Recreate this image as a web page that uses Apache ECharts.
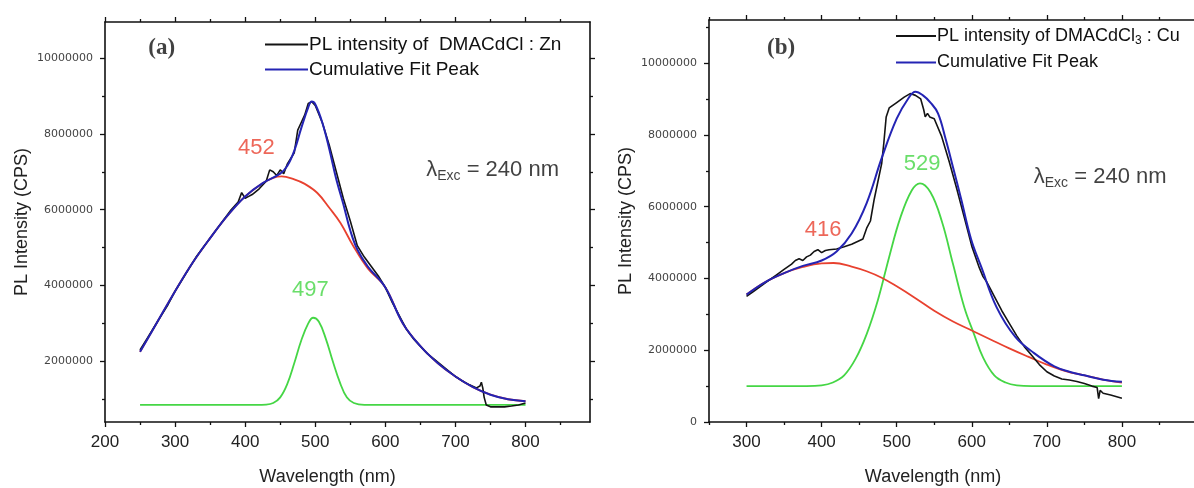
<!DOCTYPE html>
<html><head><meta charset="utf-8">
<script src="https://cdn.jsdelivr.net/npm/echarts@6/dist/echarts.min.js"></script>
<style>html,body{margin:0;padding:0;background:#fff}#c{width:1194px;height:488px}</style>
</head><body><div id="c"></div>
<script>
// ===== Panel (a): DMACdCl : Zn  (intensities in millions of CPS) =====
const aExpNm  = [250,260,270,280,290,300,310,320,330,340,350,360,370,380,390,395,400,405,410,420,430,435,440,445,450,455,460,465,470,475,480,485,490,495,500,510,520,530,540,550,560,570,580,590,600,610,620,630,640,650,660,670,680,690,700,710,720,730,735,737,739,741,744,750,760,770,780,790,800];
const aExpVal = [2.3,2.6,2.9,3.2,3.5,3.85,4.15,4.45,4.75,5.0,5.25,5.5,5.75,6.0,6.2,6.45,6.3,6.35,6.4,6.55,6.75,7.05,7.0,6.9,7.05,6.95,7.2,7.35,7.5,8.1,8.3,8.5,8.8,8.85,8.75,8.3,7.7,7.0,6.3,5.7,5.05,4.75,4.5,4.25,3.95,3.55,3.2,2.85,2.6,2.4,2.2,2.05,1.9,1.75,1.6,1.48,1.38,1.3,1.35,1.45,1.3,1.05,0.85,0.8,0.8,0.8,0.82,0.85,0.9];
const aFitNm  = [250,275,300,325,350,375,400,425,450,460,470,480,490,495,500,510,520,530,540,550,560,575,600,625,650,675,700,725,750,775,800];
const aFitVal = [2.25,3.05,3.85,4.6,5.25,5.85,6.35,6.7,6.95,7.15,7.55,8.15,8.7,8.85,8.78,8.3,7.6,6.8,6.15,5.45,4.95,4.5,3.95,3.0,2.4,1.95,1.6,1.32,1.12,1.0,0.95];
const aRedNm  = [250,275,300,325,350,375,400,425,440,452,470,485,503,520,536,554,575,600,625,650,675,700,725,750,775,800];
const aRedVal = [2.25,3.05,3.85,4.6,5.25,5.85,6.35,6.7,6.84,6.88,6.8,6.68,6.44,6.05,5.65,5.05,4.45,3.95,3.0,2.4,1.95,1.6,1.32,1.12,1.0,0.95];
const aGreenNm  = [250,400,430,440,450,460,470,480,490,497,505,515,525,535,545,555,570,800];
const aGreenVal = [0.85,0.85,0.86,0.9,1.05,1.4,1.95,2.55,3.0,3.15,3.05,2.6,2.0,1.45,1.05,0.9,0.85,0.85];

// ===== Panel (b): DMACdCl3 : Cu =====
const bExpNm  = [300,310,320,330,340,350,360,365,370,375,380,385,390,395,400,405,410,420,430,440,450,455,460,465,470,475,480,483,486,490,500,510,518,525,532,536,538,541,544,550,560,570,580,590,600,610,615,620,625,630,640,650,660,670,680,690,700,710,720,730,740,750,760,767,769,771,775,785,800];
const bExpVal = [3.5,3.65,3.8,3.95,4.1,4.25,4.4,4.5,4.55,4.5,4.6,4.65,4.75,4.8,4.72,4.78,4.8,4.82,4.88,4.95,5.05,5.1,5.4,5.6,6.2,6.7,7.2,7.8,8.5,8.75,8.9,9.05,9.15,9.1,9.0,8.7,8.5,8.6,8.5,8.45,7.95,7.25,6.5,5.7,4.9,4.3,4.05,3.9,3.7,3.5,3.1,2.75,2.4,2.1,1.85,1.6,1.4,1.28,1.2,1.17,1.13,1.07,1.0,0.96,0.65,0.88,0.8,0.75,0.66];
const bFitNm  = [300,325,350,375,400,420,440,460,480,500,515,525,535,545,555,565,575,586,599,613,633,658,683,710,730,750,775,800];
const bFitVal = [3.55,3.9,4.15,4.35,4.5,4.75,5.25,6.1,7.35,8.45,9.0,9.2,9.1,8.9,8.6,7.9,7.1,6.2,5.1,4.3,3.2,2.37,1.92,1.55,1.4,1.3,1.18,1.12];
const bRedNm  = [300,325,350,375,400,416,440,460,480,500,525,550,575,600,625,650,675,700,725,750,775,800];
const bRedVal = [3.55,3.9,4.15,4.32,4.42,4.43,4.33,4.2,4.02,3.78,3.45,3.1,2.8,2.55,2.3,2.05,1.82,1.6,1.42,1.3,1.18,1.1];
const bGreenNm  = [300,380,400,415,430,445,460,475,490,505,520,531,545,560,575,590,603,615,630,645,660,680,800];
const bGreenVal = [1.0,1.0,1.02,1.1,1.3,1.75,2.45,3.4,4.6,5.7,6.45,6.65,6.4,5.6,4.4,3.2,2.45,1.8,1.3,1.1,1.02,1.0,1.0];

// ===== annotations =====
const aPeakText = ['452','497'];  const aPeakNm = [416,493]; const aPeakVal = [7.63,3.88];
const bPeakText = ['416','529'];  const bPeakNm = [402,534]; const bPeakVal = [5.35,7.2];
const panelText = ['(a)','(b)'];  const panelNm = [281,346]; const panelVal = [10.26,10.42];
const excNm = [753,771]; const excVal = [7.05,6.83];

// ===== axes ticks =====
const aXLabels = [200,300,400,500,600,700,800];
const aXMinor  = [250,350,450,550,650,750,850];
const bXLabels = [300,400,500,600,700,800];
const bXMajor  = [300,400,500,600,700,800,900];
const bXMinor  = [250,350,450,550,650,750,850];
const aYLabels = [2000000,4000000,6000000,8000000,10000000];
const aYMinor  = [1000000,3000000,5000000,7000000,9000000];
const bYLabels = [0,2000000,4000000,6000000,8000000,10000000];
const bYMinor  = [1000000,3000000,5000000,7000000,9000000,11000000];

const M = 1e6;
const zip = (xs, ys) => xs.map((x,i)=>[x, ys[i]*M]);

const C_BLACK='#141414', C_BLUE='#2424b4', C_RED='#e8412f', C_GREEN='#45d645';
const AX = '#111';
const SANS = 'Liberation Sans, Arial, sans-serif';

function xAxis(grid, pos, min, max, ticks, labels, len, line, name){
  return {
    type:'value', gridIndex:grid, position:pos, min:min, max:max,
    axisLine:{show:line, onZero:false, lineStyle:{color:AX,width:1.6}},
    axisTick:{show:true, inside:false, length:len, customValues:ticks, lineStyle:{color:AX,width:1.3}},
    axisLabel:{show:!!labels, customValues:labels||[], margin:12, color:'#222', fontFamily:SANS, fontSize:17, formatter:v=>String(v)},
    splitLine:{show:false},
    name:name||'', nameLocation:'middle', nameGap:46,
    nameTextStyle:{color:'#222', fontFamily:SANS, fontSize:18, padding:[0,40,0,0]}
  };
}
function yAxis(grid, pos, min, max, ticks, labels, len, line, name){
  return {
    type:'value', gridIndex:grid, position:pos, min:min, max:max,
    axisLine:{show:line, onZero:false, lineStyle:{color:AX,width:1.6}},
    axisTick:{show:true, inside:false, length:len, customValues:ticks, lineStyle:{color:AX,width:1.3}},
    axisLabel:{show:!!labels, customValues:labels||[], margin:12, color:'#444', fontFamily:'DejaVu Sans, sans-serif', fontSize:11, formatter:v=>String(v)},
    splitLine:{show:false},
    name:name||'', nameLocation:'middle', nameGap:74,
    nameTextStyle:{color:'#222', fontFamily:SANS, fontSize:18}
  };
}

const aXMajorTicks = aXLabels.concat([900]);
const xAxes = [
  xAxis(0,'bottom',200,892,aXMajorTicks,aXLabels,5,true,'Wavelength (nm)'), //0
  xAxis(0,'top',200,892,aXMajorTicks,null,5,true),                           //1
  xAxis(0,'bottom',200,892,aXMinor,null,3,false),                           //2
  xAxis(0,'top',200,892,aXMinor,null,3,false),                              //3
  xAxis(1,'bottom',250,900,bXMajor,bXLabels,5,true,'Wavelength (nm)'),      //4
  xAxis(1,'top',250,900,bXMajor,null,5,true),                               //5
  xAxis(1,'bottom',250,900,bXMinor,null,3,false),                           //6
  xAxis(1,'top',250,900,bXMinor,null,3,false)                               //7
];
const yAxes = [
  yAxis(0,'left',400000,10950000,aYLabels,aYLabels,5,true,'PL Intensity (CPS)'), //0
  yAxis(0,'right',400000,10950000,aYLabels,null,5,true),                          //1
  yAxis(0,'left',400000,10950000,aYMinor,null,3,false),                           //2
  yAxis(0,'right',400000,10950000,aYMinor,null,3,false),                          //3
  yAxis(1,'left',0,11200000,bYLabels,bYLabels,5,true,'PL Intensity (CPS)'),      //4
  yAxis(1,'right',0,11200000,bYLabels,null,5,true),                               //5
  yAxis(1,'left',0,11200000,bYMinor,null,3,false),                                //6
  yAxis(1,'right',0,11200000,bYMinor,null,3,false)                                //7
];

function line(name, data, color, xi, yi, w, z, smooth){
  return {type:'line', name:name, data:data, xAxisIndex:xi, yAxisIndex:yi, symbol:'none',
    smooth:smooth, lineStyle:{color:color,width:w}, itemStyle:{color:color}, z:z, animation:false, silent:true};
}
function textSeries(xi, yi, nms, vals, texts, color, fontSize, extra){
  return {type:'scatter', xAxisIndex:xi, yAxisIndex:yi, symbolSize:0, silent:true, animation:false, z:10,
    data: nms.map((x,i)=>({value:[x, vals[i]*M], label:{formatter:texts[i]}})),
    label:Object.assign({show:true, position:'inside', color:color, fontFamily:SANS, fontSize:fontSize}, extra||{})};
}
const excRich = {
  l:{fontFamily:SANS, fontSize:22, color:'#111'},
  s:{fontFamily:SANS, fontSize:14, color:'#111', padding:[13,0,0,0]}
};
const excLabel = '{l|λ}{s|Exc}{l| = 240 nm}';

const A_EXP='PL intensity of  DMACdCl : Zn', FIT='Cumulative Fit Peak', B_EXP='PL intensity of DMACdCl3 : Cu';

const option = {
  backgroundColor:'#fff',
  animation:false,
  grid:[
    {left:105, top:22, width:485, height:400, outerBoundsMode:'none', containLabel:false},
    {left:709, top:20, width:488, height:402, outerBoundsMode:'none', containLabel:false}
  ],
  xAxis:xAxes, yAxis:yAxes,
  legend:[
    {data:[A_EXP,FIT], left:260, top:30, orient:'vertical', itemWidth:43, itemHeight:2, itemGap:6,
     icon:'rect', textStyle:{fontFamily:SANS, fontSize:19, color:'#111', padding:[0,0,0,-4]}, selectedMode:false},
    {data:[B_EXP,FIT], left:891, top:22, orient:'vertical', itemWidth:40, itemHeight:2, itemGap:7,
     icon:'rect', textStyle:{fontFamily:SANS, fontSize:18, color:'#111', padding:[0,0,0,-4],
       rich:{n:{fontFamily:SANS,fontSize:18,color:'#111'}, sub:{fontFamily:SANS,fontSize:12,color:'#111',padding:[9,0,0,0]}}},
     formatter:n=> n===B_EXP ? '{n|PL intensity of DMACdCl}{sub|3}{n| : Cu}' : n, selectedMode:false}
  ],
  series:[
    line('a-green', zip(aGreenNm,aGreenVal), C_GREEN, 0,0, 1.8, 2, 0.4),
    line('a-red', zip(aRedNm,aRedVal), C_RED, 0,0, 1.8, 3, 0.4),
    line(A_EXP, zip(aExpNm,aExpVal), C_BLACK, 0,0, 1.6, 4, false),
    line(FIT, zip(aFitNm,aFitVal), C_BLUE, 0,0, 2.0, 5, 0.4),
    line('b-green', zip(bGreenNm,bGreenVal), C_GREEN, 4,4, 1.8, 2, 0.4),
    line('b-red', zip(bRedNm,bRedVal), C_RED, 4,4, 1.8, 3, 0.4),
    line(B_EXP, zip(bExpNm,bExpVal), C_BLACK, 4,4, 1.6, 4, false),
    line(FIT, zip(bFitNm,bFitVal), C_BLUE, 4,4, 2.0, 5, 0.4),
    textSeries(0,0,[aPeakNm[0]],[aPeakVal[0]],[aPeakText[0]],C_RED,22),
    textSeries(0,0,[aPeakNm[1]],[aPeakVal[1]],[aPeakText[1]],C_GREEN,22),
    textSeries(4,4,[bPeakNm[0]],[bPeakVal[0]],[bPeakText[0]],C_RED,22),
    textSeries(4,4,[bPeakNm[1]],[bPeakVal[1]],[bPeakText[1]],C_GREEN,22),
    textSeries(0,0,[panelNm[0]],[panelVal[0]],[panelText[0]],'#111',23,{fontFamily:'Liberation Serif, Times New Roman, serif', fontWeight:'bold'}),
    textSeries(4,4,[panelNm[1]],[panelVal[1]],[panelText[1]],'#111',23,{fontFamily:'Liberation Serif, Times New Roman, serif', fontWeight:'bold'}),
    textSeries(0,0,[excNm[0]],[excVal[0]],[excLabel],'#111',22,{rich:excRich}),
    textSeries(4,4,[excNm[1]],[excVal[1]],[excLabel],'#111',22,{rich:excRich})
  ]
};
const chart = echarts.init(document.getElementById('c'), null, {renderer:'canvas'});
chart.setOption(option);
</script></body></html>
